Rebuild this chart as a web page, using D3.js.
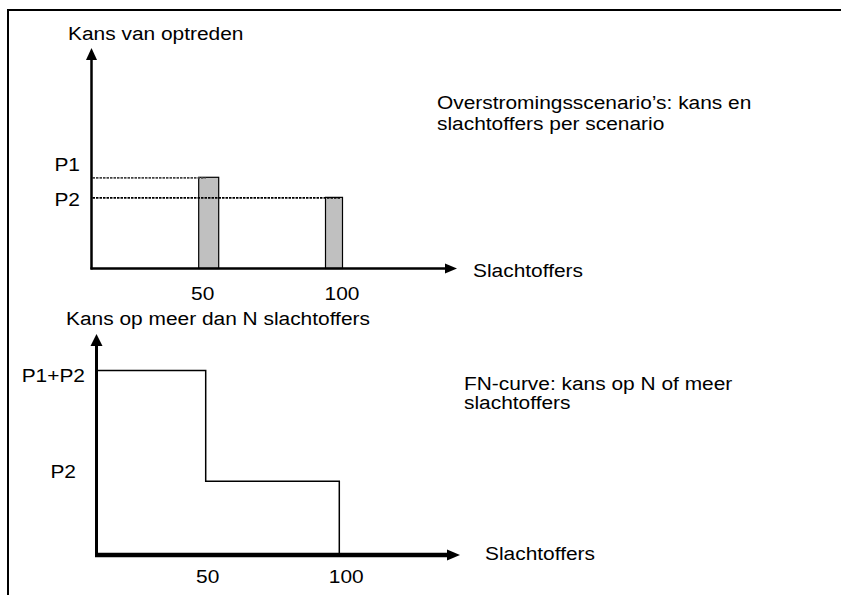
<!DOCTYPE html>
<html><head><meta charset="utf-8">
<script src="https://cdn.jsdelivr.net/npm/d3@7"></script>
<style>
html,body{margin:0;padding:0;background:#fff;}
text{font-family:"Liberation Sans",Arial,sans-serif;font-size:19px;fill:#000;}
</style></head>
<body>
<script>
// ---- data ----
const scenarioN = [50, 100];               // slachtoffers per scenario
const scenarioP = [1.0, 0.78];             // relative kans (P1, P2)
const scenarioLabels = ["P1", "P2"];
const fnN = [0, 50, 100];                  // FN-curve breakpoints
const fnP = [1.0, 0.40];                   // relative kans op N of meer
const fnLabels = ["P1+P2", "P2"];
const xTicks = [50, 100];
const topTitle = "Kans van optreden";
const bottomTitle = "Kans op meer dan N slachtoffers";
const xTitle = "Slachtoffers";
const topNote = ["Overstromingsscenario\u2019s: kans en", "slachtoffers per scenario"];
const bottomNote = ["FN-curve: kans op N of meer", "slachtoffers"];

const W = 841, H = 595, SX = 1.1;
const svg = d3.select("body").append("svg").attr("width", W).attr("height", H);

function txt(x, y, s, anchor) {
  return svg.append("text")
    .attr("transform", `translate(${x},${y}) scale(${SX},1)`)
    .attr("text-anchor", anchor || "start").text(s);
}
function arrow(tipX, tipY, dir, len, half) {
  const p = d3.path();
  if (dir === "up") { p.moveTo(tipX, tipY); p.lineTo(tipX - half, tipY + len); p.lineTo(tipX + half, tipY + len); }
  else { p.moveTo(tipX, tipY); p.lineTo(tipX - len, tipY - half); p.lineTo(tipX - len, tipY + half); }
  p.closePath();
  svg.append("path").attr("d", p.toString()).attr("fill", "#000");
}

// frame
svg.append("line").attr("x1", 7).attr("x2", W).attr("y1", 10).attr("y2", 10).attr("stroke", "#000").attr("stroke-width", 2);
svg.append("line").attr("x1", 8).attr("x2", 8).attr("y1", 9).attr("y2", H).attr("stroke", "#000").attr("stroke-width", 2);

// ---------- top chart ----------
const t = { x0: 91.5, y0: 268.5, yTop: 48, xEnd: 457 };
const xT = d3.scaleLinear().domain([0, 100]).range([83.4, 334]);
const yT = d3.scaleLinear().domain([0, 1]).range([t.y0, 177.3]);
const barW = [20, 17];

svg.selectAll("rect.bar").data(scenarioN).join("rect").attr("class", "bar")
  .attr("x", (d, i) => xT(d) - barW[i] / 2).attr("width", (d, i) => barW[i])
  .attr("y", (d, i) => yT(scenarioP[i])).attr("height", (d, i) => yT(0) - yT(scenarioP[i]))
  .attr("fill", "#c0c0c0").attr("stroke", "#000").attr("stroke-width", 1.2);

const dashEnd = [-3, 6];
const dashCol = ["#444", "#000"];
svg.selectAll("line.dash").data(scenarioN).join("line").attr("class", "dash")
  .attr("x1", t.x0 + 1).attr("x2", (d, i) => xT(d) + dashEnd[i])
  .attr("y1", (d, i) => yT(scenarioP[i]) + 0.6).attr("y2", (d, i) => yT(scenarioP[i]) + 0.6)
  .attr("stroke", (d, i) => dashCol[i]).attr("stroke-width", 1.8).attr("stroke-dasharray", "2.5,1");

// axes
svg.append("line").attr("x1", t.x0).attr("x2", t.x0).attr("y1", t.y0 + 1).attr("y2", t.yTop + 8).attr("stroke", "#000").attr("stroke-width", 2.5);
svg.append("line").attr("x1", t.x0 - 1).attr("x2", t.xEnd - 8).attr("y1", t.y0).attr("y2", t.y0).attr("stroke", "#000").attr("stroke-width", 2.5);
arrow(t.x0, t.yTop, "up", 12, 5.5);
arrow(t.xEnd, t.y0, "right", 12, 5);

const pLabDy = [-6.5, 9];
scenarioLabels.forEach((s, i) => txt(80, yT(scenarioP[i]) + pLabDy[i], s, "end"));
const topTickDx = [-6, 8];
xTicks.forEach((v, i) => txt(xT(v) + topTickDx[i], 300, String(v), "middle"));
txt(68, 40, topTitle);
txt(473, 277, xTitle);
txt(437, 108.5, topNote[0]);
txt(437, 130, topNote[1]);

// ---------- bottom chart ----------
const b = { x0: 96.5, y0: 555, yTop: 334, xEnd: 460 };
const xB = d3.scaleLinear().domain([0, 100]).range([72.1, 339.3]);
const yB = d3.scaleLinear().domain([0, 1]).range([b.y0, 370.5]);

const stepPts = [
  [b.x0, yB(fnP[0])], [xB(fnN[1]), yB(fnP[0])], [xB(fnN[1]), yB(fnP[1])],
  [xB(fnN[2]), yB(fnP[1])], [xB(fnN[2]), yB(0)]
];
svg.append("path").attr("d", d3.line()(stepPts)).attr("fill", "none")
  .attr("stroke", "#000").attr("stroke-width", 1.5);

svg.append("line").attr("x1", b.x0).attr("x2", b.x0).attr("y1", b.y0 + 2).attr("y2", b.yTop + 8).attr("stroke", "#000").attr("stroke-width", 3);
svg.append("line").attr("x1", b.x0 - 1.5).attr("x2", b.xEnd - 8).attr("y1", b.y0).attr("y2", b.y0).attr("stroke", "#000").attr("stroke-width", 4.5);
arrow(b.x0, b.yTop, "up", 12, 6);
arrow(b.xEnd, b.y0, "right", 13, 5.5);

const fnLabDx = [85, 76];
const fnLabDy = [11.5, -3.5];
fnLabels.forEach((s, i) => txt(fnLabDx[i], yB(fnP[i]) + fnLabDy[i], s, "end"));
const botTickDx = [2, 7];
xTicks.forEach((v, i) => txt(xB(v) + botTickDx[i], 582.5, String(v), "middle"));
txt(66, 325, bottomTitle);
txt(485, 560, xTitle);
txt(464, 390, bottomNote[0]);
txt(464, 409, bottomNote[1]);
</script>
</body></html>
